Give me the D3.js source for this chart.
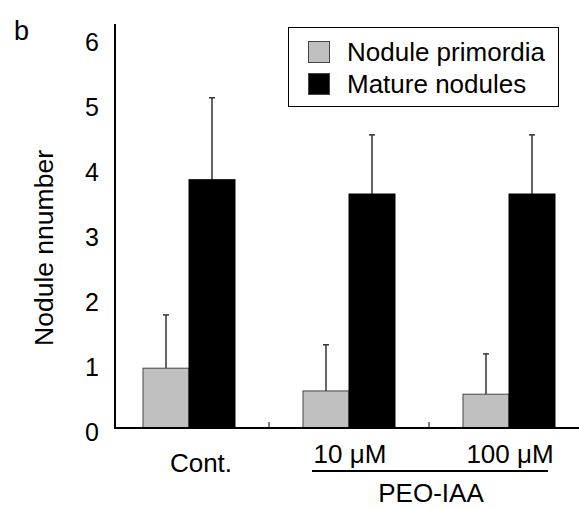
<!DOCTYPE html>
<html>
<head>
<meta charset="utf-8">
<script src="https://cdn.jsdelivr.net/npm/d3@7"></script>
<style>
  body { margin: 0; background: #fff; }
  text { font-family: Arial, "Liberation Sans", sans-serif; fill: #000; }
</style>
</head>
<body>
<svg width="579" height="509"></svg>
<script>
// categories and series
var categories = ["Cont.", "10 \u03bcM", "100 \u03bcM"];
var series = ["Nodule primordia", "Mature nodules"];
var primordia = [0.92, 0.57, 0.52];
var primordiaErr = [0.82, 0.71, 0.62];
var mature = [3.82, 3.60, 3.60];
var matureErr = [1.26, 0.91, 0.91];
var yTicks = [0, 1, 2, 3, 4, 5, 6];
var colors = ["#c0c0c0", "#000000"];

var svg = d3.select("svg");

// main scales
var x = d3.scaleBand().domain(categories).range([109, 589]);
var x1 = d3.scaleBand().domain(series).range([34, 126]);
var y = d3.scaleLinear().domain([0, 6]).range([428, 38]);

// build rows for bars
var rows = categories.map(function(c, i) {
  return {cat: c, vals: [
    {s: series[0], v: primordia[i], e: primordiaErr[i], col: colors[0]},
    {s: series[1], v: mature[i], e: matureErr[i], col: colors[1]}
  ]};
});

var groups = svg.selectAll("g.grp")
  .data(rows).enter().append("g")
  .attr("class", "grp")
  .attr("transform", function(d) { return "translate(" + x(d.cat) + ",0)"; });

// error bars (only the upper half shows)
groups.selectAll("g.err")
  .data(function(d) { return d.vals; }).enter().append("g")
  .attr("class", "err")
  .each(function(d) {
    var g = d3.select(this),
        cx = x1(d.s) + x1.bandwidth() / 2;
    g.append("line")
      .attr("x1", cx).attr("x2", cx)
      .attr("y1", y(d.v)).attr("y2", y(d.v + d.e))
      .attr("stroke", "#333").attr("stroke-width", 1.5);
    g.append("line")
      .attr("x1", cx - 3).attr("x2", cx + 3)
      .attr("y1", y(d.v + d.e)).attr("y2", y(d.v + d.e))
      .attr("stroke", "#333").attr("stroke-width", 1.5);
  });

groups.selectAll("rect")
  .data(function(d) { return d.vals; }).enter().append("rect")
  .attr("x", function(d) { return x1(d.s); })
  .attr("width", x1.bandwidth())
  .attr("y", function(d) { return y(d.v); })
  .attr("height", function(d) { return y(0) - y(d.v); })
  .attr("fill", function(d) { return d.col; })
  .attr("stroke", function(d, i) { return i === 0 ? "#444" : "#000"; })
  .attr("stroke-width", 1);

// y axis
svg.append("line")
  .attr("x1", 115).attr("x2", 115)
  .attr("y1", 24).attr("y2", y(0) + 1)
  .attr("stroke", "#000").attr("stroke-width", 2);

svg.selectAll("text.ytick")
  .data(yTicks).enter().append("text")
  .attr("class", "ytick")
  .attr("x", 99)
  .attr("y", function(d) { return y(d) + 13; })
  .attr("text-anchor", "end")
  .style("font-size", "25px")
  .text(function(d) { return d; });

// x axis
svg.append("line")
  .attr("x1", 114).attr("x2", 579)
  .attr("y1", y(0)).attr("y2", y(0))
  .attr("stroke", "#000").attr("stroke-width", 2);

svg.selectAll("line.xtick")
  .data(categories.slice(1)).enter().append("line")
  .attr("class", "xtick")
  .attr("x1", function(d) { return x(d); })
  .attr("x2", function(d) { return x(d); })
  .attr("y1", y(0)).attr("y2", y(0) - 6)
  .attr("stroke", "#000").attr("stroke-width", 1);

// category labels
svg.selectAll("text.xlab")
  .data(categories).enter().append("text")
  .attr("class", "xlab")
  .attr("x", function(d, i) { return x(d) + x.bandwidth() / 2 + (i === 0 ? 12 : 1); })
  .attr("y", function(d, i) { return i === 0 ? 472 : 463; })
  .attr("text-anchor", "middle")
  .style("font-size", "26px")
  .text(function(d) { return d; });

// PEO-IAA bracket
svg.append("line")
  .attr("x1", 312).attr("x2", 548)
  .attr("y1", 471).attr("y2", 471)
  .attr("stroke", "#000").attr("stroke-width", 2);

svg.append("text")
  .attr("x", 431).attr("y", 502)
  .attr("text-anchor", "middle")
  .style("font-size", "26px")
  .text("PEO-IAA");

// y axis title
svg.append("text")
  .attr("transform", "translate(53,248) rotate(-90)")
  .attr("text-anchor", "middle")
  .style("font-size", "26.5px")
  .text("Nodule nnumber");

// panel letter
svg.append("text")
  .attr("x", 14).attr("y", 40)
  .style("font-size", "27px")
  .text("b");

// legend
var legend = svg.append("g");
legend.append("rect")
  .attr("x", 288.5).attr("y", 27.5)
  .attr("width", 270).attr("height", 79)
  .attr("fill", "#fff").attr("stroke", "#000").attr("stroke-width", 1);

var li = legend.selectAll("g.li")
  .data(series).enter().append("g")
  .attr("class", "li")
  .attr("transform", function(d, i) { return "translate(0," + (i * 32) + ")"; });

li.append("rect")
  .attr("x", 308.5).attr("y", 41.5)
  .attr("width", 21).attr("height", 21)
  .attr("fill", function(d, i) { return colors[i]; })
  .attr("stroke", "#444");

li.append("text")
  .attr("x", 347).attr("y", 61)
  .style("font-size", "26px")
  .text(function(d) { return d; });
</script>
</body>
</html>
